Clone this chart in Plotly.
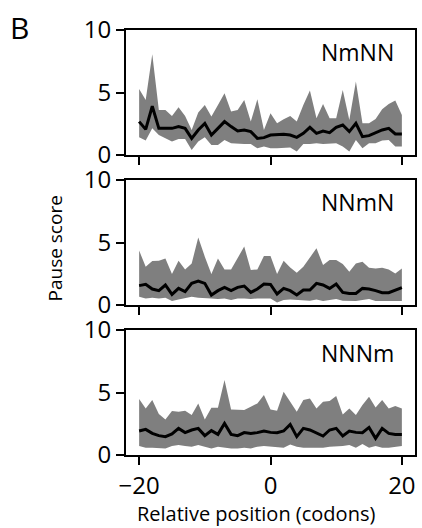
import plotly.graph_objects as go

# Relative codon positions
positions = list(range(-20, 21))

# NmNN: median pause score and interquartile-style band
nmnn_median = [2.67, 2.05, 3.9, 2.13, 2.13, 2.13, 2.27, 2.13, 1.33, 2.0, 2.53, 1.6, 2.13, 2.67, 2.27,
               1.92, 2.0, 1.87, 1.33, 1.39, 1.6, 1.65, 1.65, 1.6, 1.41, 1.73, 2.21, 1.73, 1.92, 1.79,
               2.21, 2.4, 1.87, 2.53, 1.47, 1.55, 1.79, 2.0, 2.13, 1.68, 1.68]
nmnn_upper = [5.28, 4.4, 8.05, 3.6, 3.6, 3.12, 3.81, 3.12, 2.0, 3.39, 4.0, 3.07, 4.0, 4.93, 3.47,
              3.6, 4.4, 2.67, 4.45, 2.0, 3.33, 2.53, 2.85, 3.12, 2.67, 4.0, 5.15, 2.93, 4.08, 2.93,
              2.93, 5.2, 2.8, 5.87, 2.53, 2.53, 2.88, 3.65, 4.08, 4.35, 3.2]
nmnn_lower = [1.41, 1.15, 2.13, 1.6, 1.33, 1.07, 1.28, 1.28, 0.4, 1.07, 1.41, 0.8, 0.8, 1.2, 0.93,
              0.88, 0.88, 0.88, 0.53, 0.67, 0.53, 0.53, 0.53, 0.59, 0.27, 0.88, 0.88, 0.93, 0.88, 0.88,
              0.93, 0.67, 0.27, 1.2, 0.53, 0.93, 0.93, 1.15, 1.2, 0.67, 0.67]

# NNmN
nnmn_median = [1.55, 1.65, 1.28, 1.15, 1.6, 0.85, 1.33, 1.07, 1.73, 1.92, 1.73, 0.8, 1.15, 1.41, 1.15,
               1.41, 1.52, 1.01, 1.28, 1.68, 1.65, 0.88, 1.33, 1.15, 0.8, 1.2, 1.2, 1.73, 1.6, 1.33,
               1.68, 1.01, 0.93, 0.93, 1.33, 1.28, 1.15, 0.99, 0.99, 1.2, 1.39]
nnmn_upper = [4.35, 3.07, 3.52, 3.55, 3.73, 2.48, 3.55, 2.85, 3.33, 5.39, 3.87, 2.48, 3.73, 2.85, 2.85,
              3.73, 4.67, 2.8, 2.85, 3.92, 3.92, 2.48, 3.55, 3.01, 2.59, 3.07, 3.81, 4.53, 3.2, 3.6,
              3.6, 3.28, 2.67, 3.33, 3.47, 2.99, 2.93, 2.99, 2.85, 2.53, 2.93]
nnmn_lower = [0.67, 0.53, 0.59, 0.53, 0.59, 0.32, 0.45, 0.53, 0.67, 0.59, 0.53, 0.53, 0.48, 0.53, 0.4,
              0.53, 0.53, 0.48, 0.53, 0.53, 0.53, 0.21, 0.4, 0.45, 0.4, 0.35, 0.35, 0.45, 0.32, 0.4,
              0.48, 0.35, 0.32, 0.32, 0.4, 0.48, 0.32, 0.32, 0.32, 0.32, 0.32]

# NNNm
nnnm_median = [1.92, 2.05, 1.73, 1.55, 1.47, 1.68, 2.13, 1.79, 2.0, 2.13, 1.55, 1.95, 1.65, 2.53, 1.65,
               1.55, 1.79, 1.73, 1.79, 1.92, 1.81, 1.79, 1.92, 2.45, 1.47, 2.13, 2.0, 1.79, 1.52, 2.0,
               2.13, 1.52, 1.92, 1.81, 1.79, 2.21, 1.33, 2.13, 1.73, 1.65, 1.65]
nnnm_upper = [4.48, 3.73, 4.4, 3.28, 2.85, 3.52, 3.47, 3.55, 3.2, 4.13, 2.85, 3.79, 3.79, 6.0, 3.65,
              3.65, 3.6, 3.87, 4.13, 4.8, 3.65, 3.55, 5.07, 4.27, 3.47, 4.4, 4.53, 3.73, 4.27, 4.32,
              4.72, 3.25, 3.73, 3.2, 4.0, 4.67, 3.81, 4.4, 3.73, 3.92, 3.73]
nnnm_lower = [0.72, 0.59, 0.59, 0.53, 0.53, 0.72, 0.8, 0.72, 0.67, 0.8, 0.67, 0.53, 0.67, 0.59, 0.53,
              0.53, 0.59, 0.53, 0.67, 0.72, 0.67, 0.59, 0.59, 0.85, 0.67, 0.59, 0.59, 0.59, 0.59, 0.67,
              0.67, 0.72, 0.8, 0.59, 0.88, 0.59, 0.72, 0.59, 0.59, 0.67, 0.72]

panel_names = ["NmNN", "NNmN", "NNNm"]
medians = [nmnn_median, nnmn_median, nnnm_median]
uppers = [nmnn_upper, nnmn_upper, nnnm_upper]
lowers = [nmnn_lower, nnmn_lower, nnnm_lower]

y_ticks = [0, 5, 10]
x_ticks = [-20, 0, 20]

FONT = "Open Sans"
BAND = "#7f7f7f"

# plot area: 126..417 px horizontally, 30..455 px vertically (425 px tall)
domains = [[0.7059, 1.0], [0.3529, 0.6471], [0.0, 0.2941]]

fig = go.Figure()
layout = dict(
    width=422, height=528,
    margin=dict(l=126, r=5, t=30, b=73),
    paper_bgcolor="white", plot_bgcolor="white",
    showlegend=False,
    font=dict(family=FONT, color="black", size=23),
)

annotations = []
for i in range(3):
    n = i + 1
    xa = "x" if n == 1 else f"x{n}"
    ya = "y" if n == 1 else f"y{n}"
    fig.add_trace(go.Scatter(x=positions, y=lowers[i], mode="lines", line=dict(width=0, color=BAND),
                             xaxis=xa, yaxis=ya, hoverinfo="skip"))
    fig.add_trace(go.Scatter(x=positions, y=uppers[i], mode="lines", line=dict(width=0, color=BAND),
                             fill="tonexty", fillcolor=BAND, xaxis=xa, yaxis=ya, hoverinfo="skip"))
    fig.add_trace(go.Scatter(x=positions, y=medians[i], mode="lines", line=dict(width=3, color="black"),
                             xaxis=xa, yaxis=ya))
    xkey = "xaxis" if n == 1 else f"xaxis{n}"
    ykey = "yaxis" if n == 1 else f"yaxis{n}"
    layout[xkey] = dict(
        domain=[0, 1], anchor=ya, range=[-22, 22], tickvals=x_ticks,
        showticklabels=(n == 3), showline=True, mirror=True, linecolor="black", linewidth=2,
        ticks="outside", ticklen=8, tickwidth=2, tickcolor="black", showgrid=False, zeroline=False,
        tickfont=dict(size=24, family=FONT),
    )
    layout[ykey] = dict(
        domain=domains[i], anchor=xa, range=[0, 10], tickvals=y_ticks,
        showline=True, mirror=True, linecolor="black", linewidth=2,
        ticks="outside", ticklen=8, tickwidth=2, tickcolor="black", showgrid=False, zeroline=False,
        tickfont=dict(size=24, family=FONT),
    )
    annotations.append(dict(
        text=panel_names[i], xref=f"{xa} domain", yref=f"{ya} domain", x=0.935, y=0.82,
        xanchor="right", yanchor="middle", showarrow=False, font=dict(size=23, family=FONT),
    ))

annotations.append(dict(text="B", xref="paper", yref="paper", x=-0.368, y=1.007,
                        xanchor="center", yanchor="middle", showarrow=False,
                        font=dict(size=30, family=FONT)))
annotations.append(dict(text="Pause score", xref="paper", yref="paper", x=-0.244, y=0.487,
                        xanchor="center", yanchor="middle", textangle=-90, showarrow=False,
                        font=dict(size=19, family=FONT)))
annotations.append(dict(text="Relative position (codons)", xref="paper", yref="paper", x=0.45, y=-0.137,
                        xanchor="center", yanchor="middle", showarrow=False,
                        font=dict(size=20, family=FONT)))
layout["annotations"] = annotations

fig.update_layout(**layout)
fig.write_html("out.html")
